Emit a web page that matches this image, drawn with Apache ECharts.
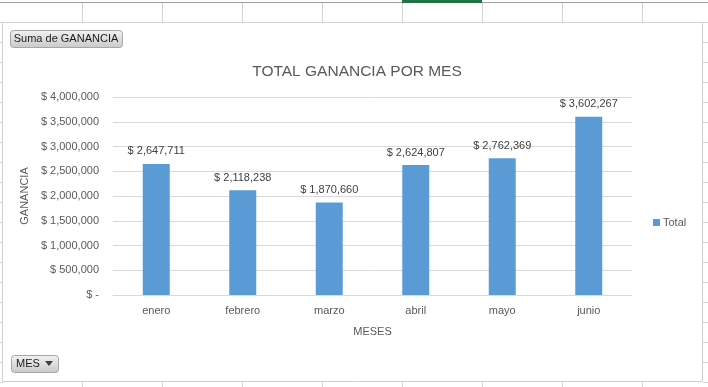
<!DOCTYPE html>
<html>
<head>
<meta charset="utf-8">
<script src="https://cdn.jsdelivr.net/npm/echarts@6/dist/echarts.min.js"></script>
<style>
html,body{margin:0;padding:0;background:#fff;}
#chart{width:708px;height:387px;}
</style>
</head>
<body>
<div id="chart"></div>
<script>
var months = ['enero','febrero','marzo','abril','mayo','junio'];
var ganancia = [2647711, 2118238, 1870660, 2624807, 2762369, 3602267];
var seriesName = 'Total';
var chartTitle = 'TOTAL GANANCIA POR MES';
var xTitle = 'MESES';
var yTitle = 'GANANCIA';
var yMin = 0, yMax = 4000000, yStep = 500000;

function money(v){ return v === 0 ? '$ -' : '$ ' + v.toLocaleString('en-US'); }

var FONT = 'Liberation Sans';
var TXT = '#595959';

// spreadsheet decoration
var deco = [];
deco.push({type:'rect', shape:{x:0,y:0,width:708,height:387}, style:{fill:'#ffffff'}, silent:true, z:-10});
[82,162,242,322,402,482,562,642].forEach(function(x){
  deco.push({type:'line', shape:{x1:x+0.5,y1:2,x2:x+0.5,y2:22}, style:{stroke:'#d4d4d4',lineWidth:1}, silent:true});
  deco.push({type:'line', shape:{x1:x+0.5,y1:382,x2:x+0.5,y2:387}, style:{stroke:'#d4d4d4',lineWidth:1}, silent:true});
});
for (var yy = 42; yy < 387; yy += 20) {
  deco.push({type:'line', shape:{x1:0,y1:yy+0.5,x2:3,y2:yy+0.5}, style:{stroke:'#d4d4d4',lineWidth:1}, silent:true});
  deco.push({type:'line', shape:{x1:703,y1:yy+0.5,x2:708,y2:yy+0.5}, style:{stroke:'#d4d4d4',lineWidth:1}, silent:true});
}
deco.push({type:'line', shape:{x1:0,y1:22.5,x2:708,y2:22.5}, style:{stroke:'#d4d4d4',lineWidth:1}, silent:true});
deco.push({type:'line', shape:{x1:0,y1:2.5,x2:708,y2:2.5}, style:{stroke:'#9e9e9e',lineWidth:1}, silent:true});
deco.push({type:'rect', shape:{x:402,y:0,width:80,height:3}, style:{fill:'#217346'}, silent:true});
deco.push({type:'rect', shape:{x:2.5,y:22.5,width:700,height:359}, style:{fill:'#ffffff',stroke:'#d0d0d0',lineWidth:1}, silent:true, z:-5});
// field buttons
deco.push({type:'rect', shape:{x:10.5,y:30.5,width:112,height:17,r:3},
  style:{fill:new echarts.graphic.LinearGradient(0,0,0,1,[{offset:0,color:'#f2f2f2'},{offset:1,color:'#c9c9c9'}]), stroke:'#a6a6a6', lineWidth:1}, silent:true});
deco.push({type:'text', x:66, y:39, style:{text:'Suma de GANANCIA', fill:'#1a1a1a', font:'11px "'+FONT+'"', align:'center', verticalAlign:'middle'}, silent:true});
deco.push({type:'rect', shape:{x:11.5,y:355.5,width:47,height:17,r:3},
  style:{fill:new echarts.graphic.LinearGradient(0,0,0,1,[{offset:0,color:'#f2f2f2'},{offset:1,color:'#c9c9c9'}]), stroke:'#a6a6a6', lineWidth:1}, silent:true});
deco.push({type:'text', x:16, y:364, style:{text:'MES', fill:'#1a1a1a', font:'11px "'+FONT+'"', align:'left', verticalAlign:'middle'}, silent:true});
deco.push({type:'polygon', shape:{points:[[45,361],[53,361],[49,366]]}, style:{fill:'#404040'}, silent:true});

var chart = echarts.init(document.getElementById('chart'), null, {renderer:'canvas'});
chart.setOption({
  animation:false,
  textStyle:{fontFamily:FONT},
  graphic: deco,
  title:{
    text: chartTitle, left: 352, top: 59, textAlign:'center',
    textStyle:{color:TXT, fontSize:15.5, fontWeight:'normal', fontFamily:FONT}
  },
  legend:{
    data:[seriesName], left:648, top:212, orient:'vertical',
    itemWidth:7, itemHeight:7, icon:'rect', itemGap:4,
    textStyle:{color:TXT, fontSize:11, fontFamily:FONT, padding:[0,0,0,-2]}
  },
  grid:{left:113, right:76, top:97, bottom:92, containLabel:false},
  xAxis:{
    type:'category', data: months,
    axisTick:{show:false},
    axisLine:{lineStyle:{color:'#d9d9d9'}},
    axisLabel:{color:TXT, fontSize:11, margin:10, fontFamily:FONT},
    name: xTitle, nameLocation:'middle', nameGap:31,
    nameTextStyle:{color:TXT, fontSize:11, fontFamily:FONT}
  },
  yAxis:{
    type:'value', min:yMin, max:yMax, interval:yStep,
    axisLine:{show:false}, axisTick:{show:false},
    splitLine:{lineStyle:{color:'#d9d9d9'}},
    axisLabel:{color:TXT, fontSize:11, margin:14, formatter: money, fontFamily:FONT},
    name: yTitle, nameLocation:'middle', nameRotate:90, nameGap:79,
    nameTextStyle:{color:TXT, fontSize:11, fontFamily:FONT}
  },
  series:[{
    name: seriesName, type:'bar', data: ganancia, barWidth:27,
    itemStyle:{color:'#5b9bd5'},
    label:{show:true, position:'top', distance:7, color:'#404040', fontSize:11, fontFamily:FONT, formatter:function(p){return money(p.value);}}
  }]
});
</script>
</body>
</html>
